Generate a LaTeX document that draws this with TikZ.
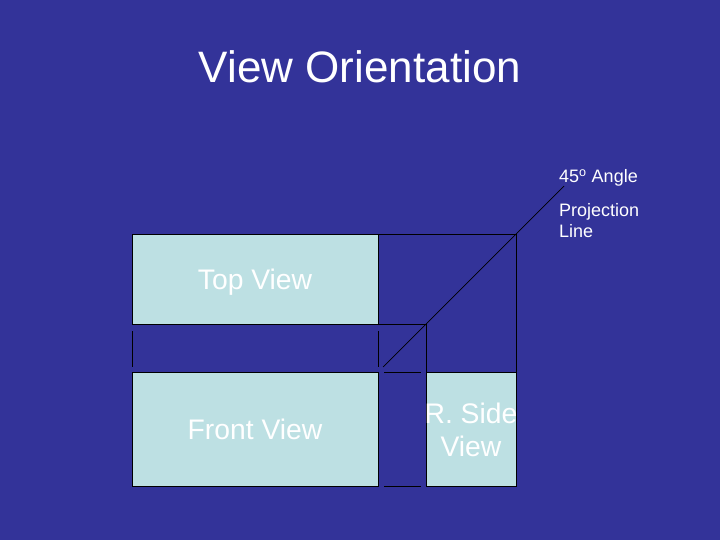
\documentclass[tikz,border=0pt]{standalone}
\usepackage{fontspec}
\setmainfont{Liberation Sans}
\definecolor{bg}{RGB}{51,51,153}
\definecolor{boxfill}{RGB}{189,224,227}
\begin{document}
\begin{tikzpicture}[x=1pt,y=-1pt,
  view/.style={draw=black,line width=1pt,fill=boxfill,inner sep=0pt,outer sep=0pt,anchor=north west},
  vlbl/.style={text=white,font=\fontsize{28.3}{33}\selectfont,anchor=base,inner sep=0pt},
  ln/.style={draw=black,line width=0.9pt},
  lbl/.style={text=white,font=\fontsize{18}{21}\selectfont,anchor=base west,inner sep=0pt}]
\fill[bg] (0,0) rectangle (720,540);
\useasboundingbox (0,0) rectangle (720,540);
\node[text=white,font=\fontsize{44}{50}\selectfont,anchor=base,inner sep=0pt] (title) at (360,83) {View Orientation};
\node[view,minimum width=246pt,minimum height=90pt] (top) at (132,234) {};
\node[vlbl] (toplbl) at (255,289) {Top View};
\node[view,minimum width=246pt,minimum height=114pt] (front) at (132,372) {};
\node[vlbl] (frontlbl) at (255,439) {Front View};
\node[view,minimum width=89.5pt,minimum height=114pt] (side) at (426.5,372) {};
\node[vlbl] (sidelbl1) at (471,423) {R. Side};
\node[vlbl] (sidelbl2) at (471,456) {View};
\coordinate (tr) at (516,234);
\coordinate (mid) at (426.5,324);
\draw[ln] (top.north east) -- (tr) -- (side.north east);
\draw[ln] (top.south east) -- (mid) -- (side.north west);
\coordinate (g1a) at (132,331); \coordinate (g1b) at (132,367);
\coordinate (g2a) at (378,331); \coordinate (g2b) at (378,367);
\draw[ln] (g1a) -- (g1b);
\draw[ln] (g2a) -- (g2b);
\coordinate (h1a) at (384,372); \coordinate (h1b) at (421,372);
\coordinate (h2a) at (384,486); \coordinate (h2b) at (421,486);
\draw[ln] (h1a) -- (h1b);
\draw[ln] (h2a) -- (h2b);
\coordinate (d1) at (383,367); \coordinate (d2) at (564,186);
\draw[ln,line width=0.7pt] (d1) -- (d2);
\node[lbl] (angle) at (559,183) {45\textsuperscript{o} Angle};
\node[lbl] (proj1) at (559,216) {Projection};
\node[lbl] (proj2) at (559,237) {Line};
\end{tikzpicture}
\end{document}
